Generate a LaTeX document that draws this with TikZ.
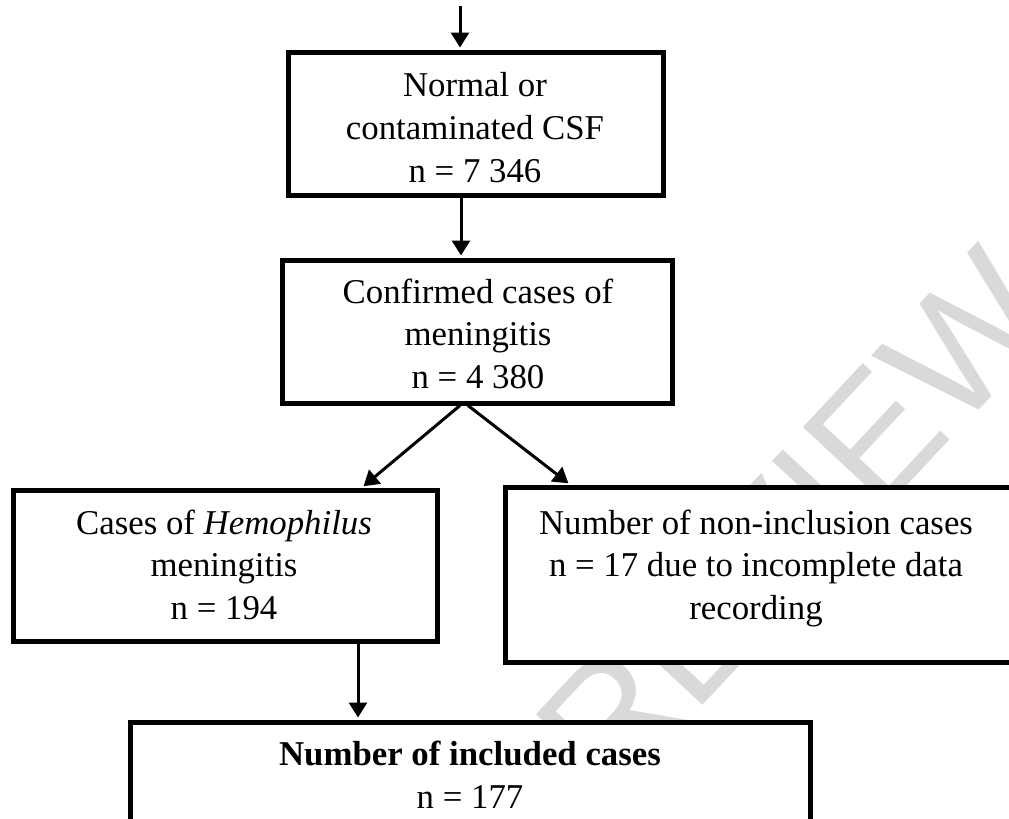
\documentclass[tikz,border=0pt]{standalone}
\usepackage{fontspec}
\setmainfont{Liberation Serif}
\newfontfamily\wmfont{Liberation Sans}
\usetikzlibrary{arrows.meta,calc}
\tikzset{
  flowbox/.style={draw=black, line width=2.5pt, fill=white, inner sep=0pt},
  boxtext/.style={inner sep=0pt, align=center, font=\fontsize{17.4}{21.3}\selectfont},
  arr/.style={line width=1.5pt, -{Triangle[length=7.5pt,width=9pt]}, shorten >=1pt},
  wmark/.style={text=black!15, font=\wmfont\fontsize{84}{86}\selectfont}
}
\begin{document}
\begin{tikzpicture}[x=0.5pt,y=-0.5pt]
\useasboundingbox (0,0) rectangle (1009,819);
% watermark
\node[wmark, rotate=47] (wm) at (795,522) {REVIEW};
% boxes
\node[flowbox, minimum width=187.5pt, minimum height=71.5pt] (b1) at (475.5,123.5) {};
\node[flowbox, minimum width=195pt, minimum height=71.5pt] (b2) at (477,331.5) {};
\node[flowbox, minimum width=212pt, minimum height=75.5pt] (b3) at (225,565.5) {};
\node[flowbox, minimum width=254pt, minimum height=87.5pt] (b4) at (759,574.5) {};
\node[flowbox, minimum width=340pt, minimum height=54pt] (b5) at (470,776) {};
% texts
\node[boxtext] (t1) at (475,127.6) {Normal or\\contaminated CSF\\n = 7 346};
\node[boxtext] (t2) at (478,333.6) {Confirmed cases of\\meningitis\\n = 4 380};
\node[boxtext] (t3) at (224,564.6) {Cases of \textit{Hemophilus}\\meningitis\\n = 194};
\node[boxtext] (t4) at (756,568.4) {Number of non-inclusion cases\\n = 17 due to incomplete data\\recording};
\node[boxtext] (t5) at (470,775) {\textbf{Number of included cases}\\n = 177};
% helper coordinates
\coordinate (top) at (460,6);
\coordinate (c12) at (461,0);
\coordinate (sl) at (460,403);
\coordinate (sr) at (468,403);
\coordinate (el) at (362,0);
\coordinate (er) at (570,0);
\coordinate (cb) at (358,0);
% connectors
\draw[arr] (top) -- (b1.north -| top);
\draw[arr] (b1.south -| c12) -- (b2.north -| c12);
\draw[arr] (b2.south -| sl) -- (b3.north -| el);
\draw[arr] (b2.south -| sr) -- (b4.north -| er);
\draw[arr] (b3.south -| cb) -- (b5.north -| cb);
\end{tikzpicture}
\end{document}
